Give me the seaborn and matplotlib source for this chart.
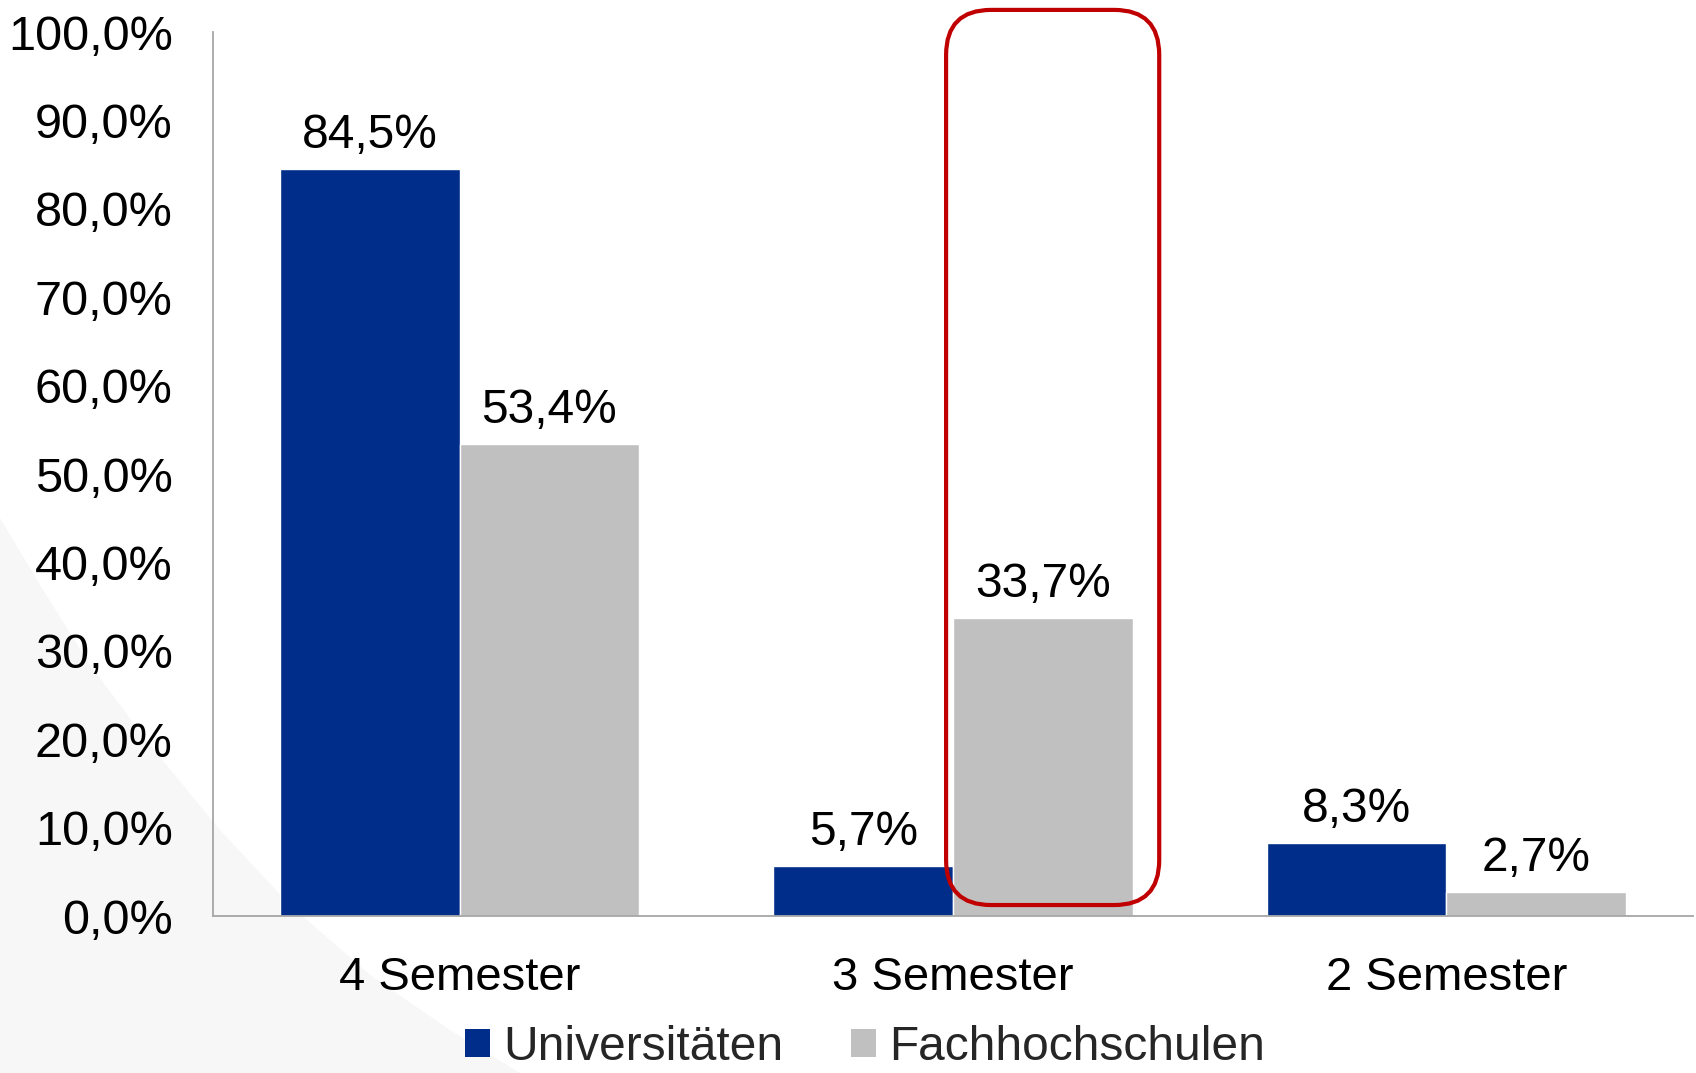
import pandas as pd
import matplotlib
matplotlib.use("Agg")
import matplotlib.pyplot as plt
from matplotlib.patches import Patch, Polygon, FancyBboxPatch
import seaborn as sns

# values
semesters = ["4 Semester", "3 Semester", "2 Semester"]
universitaeten = [84.5, 5.7, 8.3]
fachhochschulen = [53.4, 33.7, 2.7]
series_names = ["Universitäten", "Fachhochschulen"]
y_ticks = [0, 10, 20, 30, 40, 50, 60, 70, 80, 90, 100]

blue = "#002D8A"
gray = "#C0C0C0"
red = "#C00000"


def fmt_pct(v):
    return f"{v:.1f}%".replace(".", ",")


df = pd.DataFrame({
    "semester": semesters * 2,
    "anteil": universitaeten + fachhochschulen,
    "typ": [series_names[0]] * 3 + [series_names[1]] * 3,
})

sns.set_theme(style="white")
plt.rcParams["font.family"] = ["Liberation Sans", "DejaVu Sans"]

W, H = 1696, 1073
fig = plt.figure(figsize=(W / 100, H / 100), dpi=100)
fig.patch.set_facecolor("white")

# faint grey swoosh in the lower left corner of the slide background
swoosh = [(0, 518), (40, 585), (90, 665), (150, 745), (220, 830), (290, 905),
          (370, 975), (450, 1030), (520, 1073), (0, 1073)]
fig.patches.append(Polygon([(x / W, 1 - y / H) for x, y in swoosh], closed=True,
                           transform=fig.transFigure, facecolor="#F7F7F7",
                           edgecolor="none", zorder=-1))

ax = fig.add_axes([213 / W, 1 - 916 / H, (1693 - 213) / W, (916 - 32) / H])
ax.set_facecolor("none")
ax.set_zorder(1)

sns.barplot(data=df, x="semester", y="anteil", hue="typ", palette=[blue, gray],
            width=0.728, saturation=1, ax=ax, errorbar=None)

ax.set_xlim(-0.5, 2.5)
ax.set_ylim(0, 100)
ax.set_yticks(y_ticks)
ax.set_yticklabels([fmt_pct(t) for t in y_ticks])
ax.set_xlabel("")
ax.set_ylabel("")
ax.tick_params(axis="y", length=0, pad=29, labelsize=35, colors="black")
ax.tick_params(axis="x", length=0, pad=29, labelsize=34, colors="black")

for side in ["top", "right"]:
    ax.spines[side].set_visible(False)
for side in ["left", "bottom"]:
    ax.spines[side].set_color("#A6A6A6")
    ax.spines[side].set_linewidth(1.3)

for cont, vals in zip(ax.containers, [universitaeten, fachhochschulen]):
    ax.bar_label(cont, labels=[fmt_pct(v) for v in vals], padding=8,
                 fontsize=34.5, color="black")

if ax.legend_ is not None:
    ax.legend_.remove()

# red rounded highlight around the 3 Semester / Fachhochschulen bar
x0, x1 = 0.986, 1.418
y0, y1 = 1.24, 102.5
(px0, py0) = ax.transData.transform((x0, y0))
(px1, py1) = ax.transData.transform((x1, y1))
box = FancyBboxPatch((px0, py0), px1 - px0, py1 - py0,
                     boxstyle="round,pad=0,rounding_size=45",
                     transform=None, facecolor="none", edgecolor=red,
                     linewidth=3, zorder=5, clip_on=False)
fig.patches.append(box)

handles = [Patch(facecolor=blue, edgecolor="none"), Patch(facecolor=gray, edgecolor="none")]
fig.legend(handles, series_names, loc="center", bbox_to_anchor=(0.51, 0.024),
           ncol=2, frameon=False, fontsize=34.5, handlelength=0.52, handleheight=0.52,
           handletextpad=0.28, columnspacing=1.4, borderaxespad=0, borderpad=0)

fig.savefig("out.png", dpi=100)
